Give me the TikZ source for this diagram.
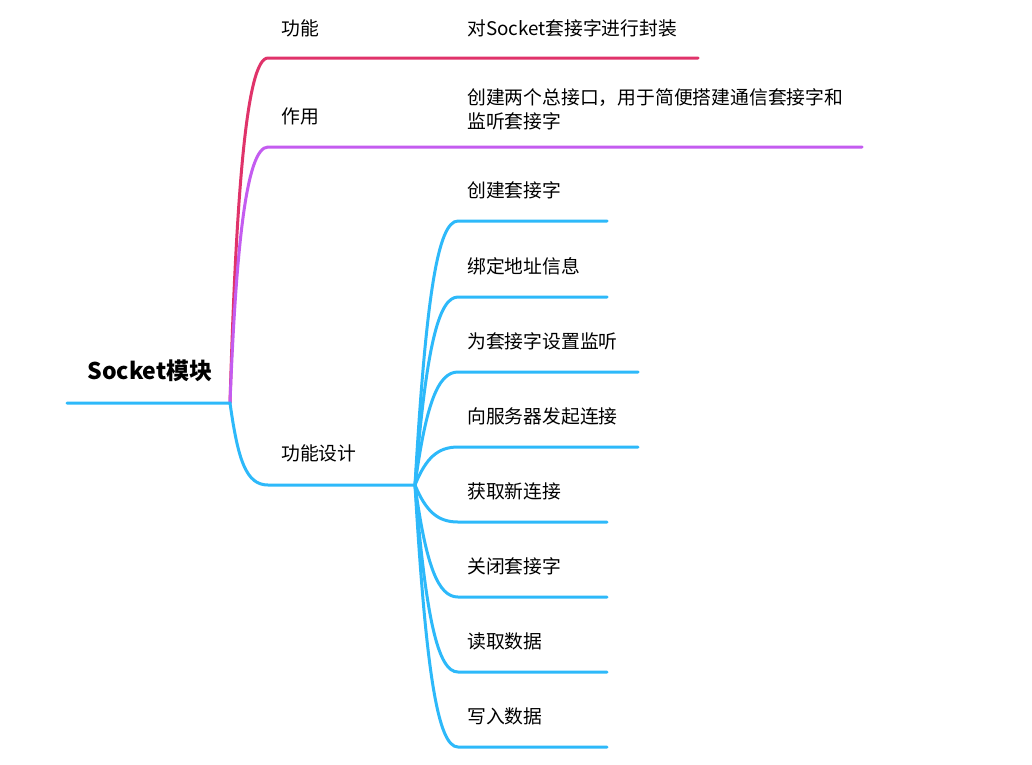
\documentclass[tikz,border=0pt]{standalone}
\usepackage{fontspec}
\setmainfont{Noto Sans CJK SC}
\definecolor{cred}{HTML}{E0336A}
\definecolor{cpurple}{HTML}{C45CF0}
\definecolor{cblue}{HTML}{2DB9FA}
\begin{document}
\begin{tikzpicture}[x=1pt,y=-1pt,
  lbl/.style={anchor=west,inner sep=0pt,font=\fontsize{18.8}{24}\selectfont},
  rootlbl/.style={inner sep=0pt,font=\fontsize{23}{27}\selectfont\bfseries},
  br/.style={line width=3pt,line cap=round}]
\useasboundingbox (0,0) rectangle (1032,764);
\fill[white] (0,0) rectangle (1032,764);
% root
\coordinate (r0) at (67,403);
\coordinate (r1) at (230,403);
\node[rootlbl] (root) at (150,371) {Socket模块};
% level 1 coordinates
\coordinate (a0) at (268,58);  \coordinate (a1) at (698,58);
\coordinate (b0) at (268,147); \coordinate (b1) at (862,147);
\coordinate (c0) at (268,485); \coordinate (c1) at (415,485);
\node[lbl] (la) at (281,28) {功能};
\node[lbl] (lb) at (281,116) {作用};
\node[lbl] (lc) at (281,453) {功能设计};
\node[lbl] (ta) at (467,28) {对Socket套接字进行封装};
\node[lbl,align=left] (tb) at (467,109) {创建两个总接口，用于简便搭建通信套接字和\\监听套接字};
\draw[br,cred] (r1) .. controls (236,200) and (246,58) .. (a0) -- (a1);
\draw[br,cpurple] (r1) .. controls (236,250) and (246,147) .. (b0) -- (b1);
\draw[br,cblue] (r0) -- (r1) .. controls (238,460) and (246,485) .. (c0) -- (c1);
% level 2
\foreach \i/\y/\e/\t in {1/221/607/创建套接字,2/297/607/绑定地址信息,3/372/638/为套接字设置监听,4/447/638/向服务器发起连接,5/522/607/获取新连接,6/597/607/关闭套接字,7/672/607/读取数据,8/747/607/写入数据}{
  \coordinate (d\i) at (458,\y);
  \coordinate (e\i) at (\e,\y);
  \node[lbl] (t\i) at (467,\y-31) {\t};
  \pgfmathsetmacro{\cy}{485+(\y-485)*0.72}
  \draw[br,cblue] (c1) .. controls (426,\cy) and (438,\y) .. (d\i) -- (e\i);
}
\end{tikzpicture}
\end{document}
